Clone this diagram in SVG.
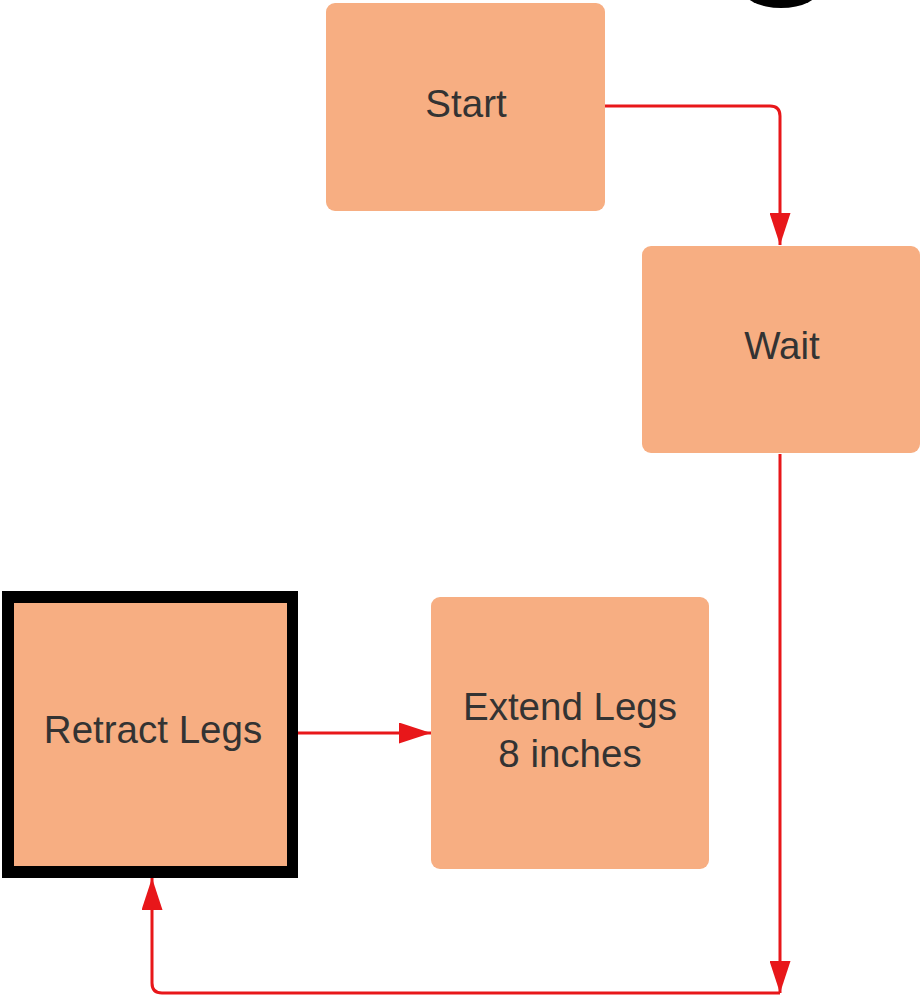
<svg xmlns="http://www.w3.org/2000/svg" width="922" height="998" viewBox="0 0 922 998">
<style>
.node{fill:#F7AE82;}
.lbl{font-family:"Liberation Sans",Arial,sans-serif;font-size:38.5px;fill:#333333;text-anchor:middle;}
.conn{fill:none;stroke:#E8171A;stroke-width:3;}
</style>
<defs>
<marker id="ah" viewBox="0 0 32 21" refX="32" refY="10.5" markerWidth="32" markerHeight="21" markerUnits="userSpaceOnUse" orient="auto">
<path d="M0,0 L32,10.5 L0,21 Z" fill="#E8171A"/>
</marker>
</defs>
<rect width="922" height="998" fill="#ffffff"/>
<ellipse cx="781" cy="-12" rx="39" ry="20" fill="#000000"/>
<g id="connectors">
<path class="conn" d="M605,106 H770 Q780,106 780,116 V245" marker-end="url(#ah)"/>
<path class="conn" d="M780,454 V993" marker-end="url(#ah)"/>
<path class="conn" d="M780,993 H162 Q152,993 152,983 V878" marker-end="url(#ah)"/>
<path class="conn" d="M298,733 H431" marker-end="url(#ah)"/>
</g>
<g id="start">
<rect class="node" x="326" y="3" width="279" height="208" rx="9"/>
<text class="lbl" x="466" y="117">Start</text>
</g>
<g id="wait">
<rect class="node" x="642" y="246" width="278" height="207" rx="9"/>
<text class="lbl" x="782" y="359">Wait</text>
</g>
<g id="retract">
<rect x="2" y="591" width="296" height="287" fill="#000000"/>
<rect class="node" x="14" y="603" width="273" height="263"/>
<text class="lbl" x="153" y="743">Retract Legs</text>
</g>
<g id="extend">
<rect class="node" x="431" y="597" width="278" height="272" rx="9"/>
<text class="lbl" x="570" y="720">Extend Legs</text>
<text class="lbl" x="570" y="767">8 inches</text>
</g>
</svg>
